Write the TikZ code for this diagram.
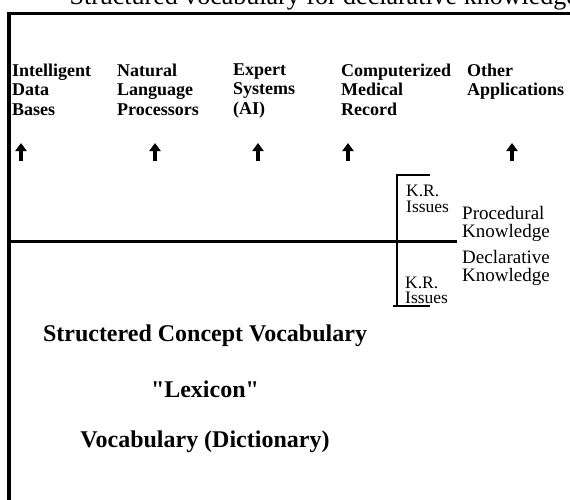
\documentclass[tikz,border=0pt]{standalone}
\usepackage{fontspec}
\setmainfont{Liberation Serif}
\newfontfamily\qfont{Liberation Serif}[Ligatures=TeXOff]
\usetikzlibrary{arrows.meta}
\begin{document}
\begin{tikzpicture}[x=1pt,y=-1pt,
  frameline/.style={line width=3.2pt},
  midline/.style={line width=3.2pt},
  bracketline/.style={line width=1.3pt},
  applbl/.style={font=\bfseries\fontsize{18}{19.5}\selectfont, align=left, anchor=north west, inner sep=0pt},
  krlbl/.style={font=\fontsize{17.5}{16.5}\selectfont, align=left, anchor=north west, inner sep=0pt},
  knowlbl/.style={font=\fontsize{19}{18}\selectfont, align=left, anchor=north west, inner sep=0pt},
  biglbl/.style={font=\bfseries\fontsize{24}{28}\selectfont, anchor=base, inner sep=0pt},
  toplbl/.style={font=\fontsize{26}{26}\selectfont, anchor=base east, inner sep=0pt},
  uparrow/.style={line width=3.3pt, -{Triangle[width=11pt,length=8pt]}}
]
\useasboundingbox (0,0) rectangle (570,500);
\clip (0,0) rectangle (570,500);

% cut-off caption at the top
\node[toplbl] (caption) at (578,5) {Structured vocabulary for declarative knowledge};

% frame
\coordinate (tl) at (9,13.5);
\coordinate (tr) at (575,13.5);
\coordinate (bl) at (9,505);
\draw[frameline] (tr) -- (tl) -- (bl);

% middle divider
\coordinate (ml) at (9,241.5);
\coordinate (mr) at (457,241.5);
\draw[midline] (ml) -- (mr);

% application labels
\node[applbl] (idb) at (12,63.5) {Intelligent\\Data\\Bases};
\node[applbl] (nlp) at (117,63.5) {Natural\\Language\\Processors};
\node[applbl] (es)  at (233,63.5) {Expert\\Systems\\(AI)};
\node[applbl] (cmr) at (341,63.5) {Computerized\\Medical\\Record};
\node[applbl] (oa)  at (467,63.5) {Other\\Applications};

% up arrows
\coordinate (a1s) at (21,161); \coordinate (a1e) at (21,143);
\coordinate (a2s) at (155,161); \coordinate (a2e) at (155,143);
\coordinate (a3s) at (258,161); \coordinate (a3e) at (258,143);
\coordinate (a4s) at (348,161); \coordinate (a4e) at (348,143);
\coordinate (a5s) at (512,161); \coordinate (a5e) at (512,143);
\draw[uparrow] (a1s) -- (a1e);
\draw[uparrow] (a2s) -- (a2e);
\draw[uparrow] (a3s) -- (a3e);
\draw[uparrow] (a4s) -- (a4e);
\draw[uparrow] (a5s) -- (a5e);

% K.R. issues bracket
\coordinate (bte) at (430,175);
\coordinate (bt) at (397,175);
\coordinate (bb) at (397,306);
\coordinate (bbl) at (393,306);
\coordinate (bbr) at (430,306);
\draw[bracketline] (bte) -- (bt) -- (bb);
\draw[bracketline] (bbl) -- (bbr);

\node[krlbl] (kr1) at (406,184.5) {K.R.\\Issues};
\node[krlbl, font=\fontsize{17.5}{15}\selectfont] (kr2) at (405,276.5) {K.R.\\Issues};

\node[knowlbl] (proc) at (462,206) {Procedural\\Knowledge};
\node[knowlbl] (decl) at (462,250) {Declarative\\Knowledge};

% lexicon texts
\node[biglbl] (scv) at (205,341) {Structered Concept Vocabulary};
\node[biglbl] (lex) at (205,397) {\qfont\bfseries "Lexicon"};
\node[biglbl] (voc) at (205,447) {Vocabulary (Dictionary)};
\end{tikzpicture}
\end{document}
